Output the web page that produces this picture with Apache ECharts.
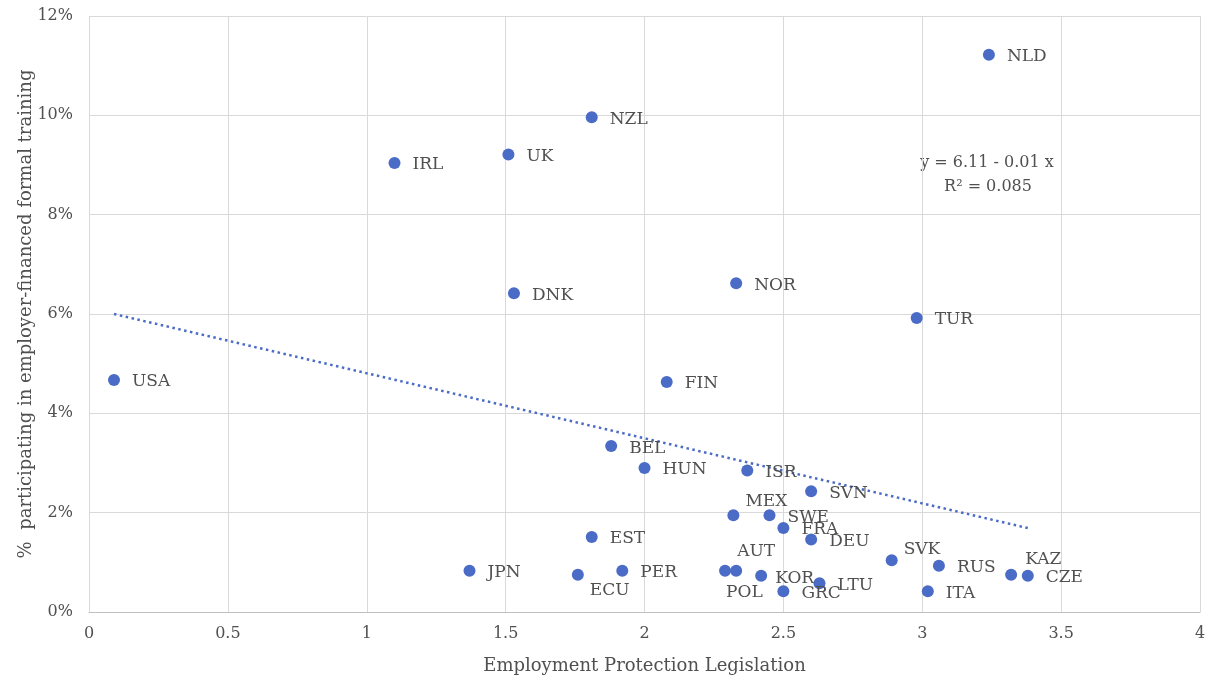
<!DOCTYPE html>
<html>
<head>
<meta charset="utf-8">
<script src="https://cdn.jsdelivr.net/npm/echarts@6/dist/echarts.min.js"></script>
<style>
html,body{margin:0;padding:0;background:#fff;}
#chart{width:1216px;height:683px;}
</style>
</head>
<body>
<div id="chart"></div>
<script>
// ---- data ----
const countries = ['USA','IRL','UK','NZL','DNK','NOR','NLD','TUR','FIN','BEL','HUN','ISR','SVN','MEX','SWE','FRA','DEU','EST','AUT','POL','KOR','GRC','LTU','JPN','ECU','PER','SVK','RUS','ITA','KAZ','CZE'];
const eplValues = [0.09,1.10,1.51,1.81,1.53,2.33,3.24,2.98,2.08,1.88,2.00,2.37,2.60,2.32,2.45,2.50,2.60,1.81,2.33,2.29,2.42,2.50,2.63,1.37,1.76,1.92,2.89,3.06,3.02,3.32,3.38];
const trainingValues = [4.67,9.04,9.21,9.96,6.42,6.62,11.22,5.92,4.63,3.34,2.90,2.85,2.43,1.95,1.95,1.69,1.46,1.51,0.83,0.83,0.73,0.42,0.58,0.83,0.75,0.83,1.04,0.93,0.42,0.75,0.73];
const trendX = [0.09, 3.38];
const trendY = [6.00, 1.69];
const yTicks = [0,2,4,6,8,10,12];
const xTicks = [0,0.5,1,1.5,2,2.5,3,3.5,4];
const equationText = 'y = 6.11 - 0.01 x';
const r2Text = 'R² = 0.085';

// ---- label placement (style only) ----
const labelNudge = {MEX:[12,-14], AUT:[1,-19], POL:[1,22], KOR:[14,3], ECU:[12,16], SVK:[12,-11], KAZ:[14,-15]};
const defaultNudge = [18,2];

const FONT = 'DejaVu Serif';
const TXT = '#505050';
const BLUE = '#4A6BC6';

const scatterData = countries.map((c,i)=>{
  const n = labelNudge[c] || defaultNudge;
  return {
    name: c,
    value: [eplValues[i], trainingValues[i]],
    label: {offset:[n[0]-6, n[1]]}
  };
});

const chart = echarts.init(document.getElementById('chart'), null, {renderer:'canvas'});
chart.setOption({
  animation:false,
  backgroundColor:'#fff',
  grid:{left:89, right:16, top:16, bottom:71, containLabel:false},
  xAxis:{
    type:'value', min:xTicks[0], max:xTicks[xTicks.length-1], interval:0.5,
    name:'Employment Protection Legislation', nameLocation:'middle', nameGap:45,
    nameTextStyle:{fontFamily:FONT, fontSize:18, color:TXT},
    axisLine:{show:true, lineStyle:{color:'#bfbfbf', width:1}},
    axisTick:{show:false},
    axisLabel:{fontFamily:FONT, fontSize:16, color:TXT, margin:14},
    splitLine:{show:true, lineStyle:{color:'#d9d9d9', width:1}}
  },
  yAxis:{
    type:'value', min:yTicks[0], max:yTicks[yTicks.length-1], interval:2,
    axisLine:{show:false}, axisTick:{show:false},
    axisLabel:{fontFamily:FONT, fontSize:16, color:TXT, margin:16, formatter:'{value}%'},
    splitLine:{show:true, lineStyle:{color:'#d9d9d9', width:1}}
  },
  graphic:[
    {type:'text', x:26, y:314, rotation:Math.PI/2,
     style:{text:'%  participating in employer-financed formal training', fontFamily:FONT, fontSize:18, fill:TXT, textAlign:'center', textVerticalAlign:'middle'}},
    {type:'text', x:987, y:163,
     style:{text:equationText, fontFamily:FONT, fontSize:16, fill:TXT, textAlign:'center', textVerticalAlign:'middle'}},
    {type:'text', x:988, y:187,
     style:{text:r2Text, fontFamily:FONT, fontSize:16, fill:TXT, textAlign:'center', textVerticalAlign:'middle'}}
  ],
  series:[
    {
      type:'line', data:trendX.map((x,i)=>[x,trendY[i]]), symbol:'none', silent:true,
      lineStyle:{color:BLUE, width:2.5, type:[2.5,3.5]}, z:1
    },
    {
      type:'scatter', data:scatterData, symbol:'circle', symbolSize:12,
      itemStyle:{color:BLUE, opacity:1},
      label:{show:true, position:'right', distance:0, formatter:'{b}', fontFamily:FONT, fontSize:17, color:TXT, align:'left', verticalAlign:'middle'},
      z:2
    }
  ]
});
</script>
</body>
</html>
